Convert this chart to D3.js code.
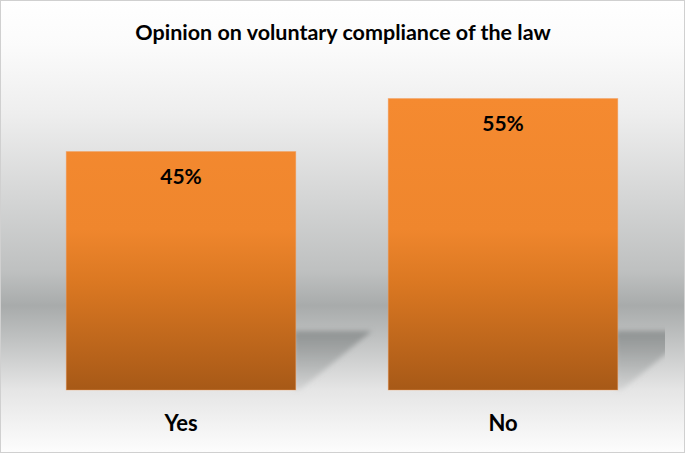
<!DOCTYPE html>
<html>
<head>
<meta charset="utf-8">
<script src="https://cdn.jsdelivr.net/npm/d3@7"></script>
<style>
  body { margin: 0; background: #fff; }
  svg { display: block; }
</style>
</head>
<body>
<svg width="685" height="453"></svg>
<script>
// chart data
var categories = ["Yes", "No"];
var percents = [45, 55];
var title = "Opinion on voluntary compliance of the law";

var svg = d3.select("svg"),
    W = +svg.attr("width"),
    H = +svg.attr("height");

var x = d3.scaleBand()
    .domain(categories)
    .range([20, 664])
    .paddingInner(0.287)
    .paddingOuter(0.1435);

var y = d3.scaleLinear()
    .domain([0, 60])
    .range([390, 72]);

var defs = svg.append("defs");

// background: white -> grey band -> white
var bg = defs.append("linearGradient")
    .attr("id", "bg").attr("x1", 0).attr("y1", 0).attr("x2", 0).attr("y2", 1);
[[0, "#ffffff"], [0.1, "#fbfbfb"], [0.25, "#eeeeee"], [0.44, "#d4d5d5"],
 [0.6, "#bec0c0"], [0.675, "#a8abab"], [0.75, "#c0c2c2"], [0.86, "#e5e5e5"], [1, "#fdfdfd"]]
  .forEach(function (s) { bg.append("stop").attr("offset", s[0]).attr("stop-color", s[1]); });

// bar fill
var barGrad = defs.append("linearGradient")
    .attr("id", "bar").attr("gradientUnits", "userSpaceOnUse")
    .attr("x1", 0).attr("y1", y(55)).attr("x2", 0).attr("y2", y(0));
[[0, "#f58a30"], [0.45, "#ef862d"], [0.63, "#db7822"], [1, "#a75917"]]
  .forEach(function (s) { barGrad.append("stop").attr("offset", s[0]).attr("stop-color", s[1]); });

// shadow fill
var shGrad = defs.append("linearGradient")
    .attr("id", "sh").attr("x1", 0).attr("y1", 0).attr("x2", 0).attr("y2", 1);
shGrad.append("stop").attr("offset", 0).attr("stop-color", "#878b8b").attr("stop-opacity", 0.85);
shGrad.append("stop").attr("offset", 1).attr("stop-color", "#999c9c").attr("stop-opacity", 0.2);

defs.append("filter").attr("id", "blur")
    .attr("x", "-20%").attr("y", "-20%").attr("width", "140%").attr("height", "140%")
  .append("feGaussianBlur").attr("stdDeviation", 2.5);

defs.append("clipPath").attr("id", "plot")
  .append("rect").attr("x", 8).attr("y", 0).attr("width", 657).attr("height", H);

svg.append("rect")
    .attr("width", W).attr("height", H)
    .attr("fill", "url(#bg)");

// shadows behind bars
svg.append("g")
    .attr("clip-path", "url(#plot)")
  .selectAll("path")
  .data(categories)
  .enter().append("path")
    .attr("d", function (d) {
      var r = x(d) + x.bandwidth(), top = 331, bot = y(0);
      return "M" + (r - 2) + "," + top + "L" + (r + 76) + "," + top +
             "L" + (r + 4) + "," + bot + "L" + (r - 2) + "," + bot + "Z";
    })
    .attr("fill", "url(#sh)")
    .attr("filter", "url(#blur)");

// bars
svg.append("g")
  .selectAll("rect")
  .data(categories)
  .enter().append("rect")
    .attr("x", function (d) { return x(d); })
    .attr("y", function (d, i) { return y(percents[i]); })
    .attr("width", x.bandwidth())
    .attr("height", function (d, i) { return y(0) - y(percents[i]); })
    .attr("fill", "url(#bar)")
    .attr("stroke", "#f5a060")
    .attr("stroke-opacity", 0.5)
    .attr("stroke-width", 0.8);

// value labels
svg.append("g")
  .selectAll("text")
  .data(categories)
  .enter().append("text")
    .attr("x", function (d) { return x(d) + x.bandwidth() / 2; })
    .attr("y", function (d, i) { return y(percents[i]) + 32; })
    .attr("text-anchor", "middle")
    .style("font", "bold 21px Lato, sans-serif")
    .attr("fill", "#000")
    .text(function (d, i) { return percents[i] + "%"; });

// category labels
svg.append("g")
  .selectAll("text")
  .data(categories)
  .enter().append("text")
    .attr("x", function (d) { return x(d) + x.bandwidth() / 2; })
    .attr("y", 431)
    .attr("text-anchor", "middle")
    .style("font", "bold 22px Lato, sans-serif")
    .attr("fill", "#000")
    .text(function (d) { return d; });

// title
svg.append("text")
    .attr("x", 343)
    .attr("y", 40)
    .attr("text-anchor", "middle")
    .style("font", "bold 21.5px Lato, sans-serif")
    .attr("fill", "#000")
    .text(title);

// outer border
svg.append("rect")
    .attr("x", 0.5).attr("y", 0.5)
    .attr("width", W - 1).attr("height", H - 1)
    .attr("fill", "none")
    .attr("stroke", "#d0d0d0");
</script>
</body>
</html>
